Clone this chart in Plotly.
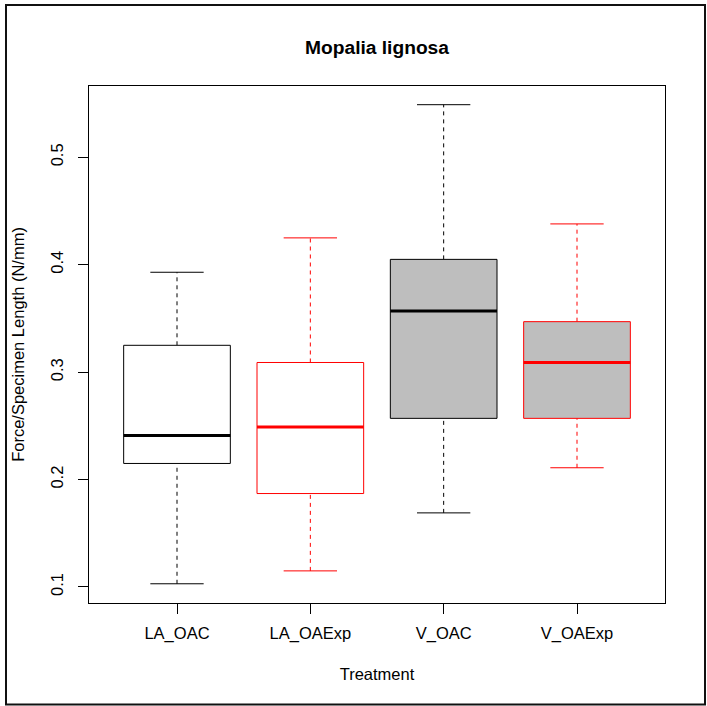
import plotly.graph_objects as go

categories = ["LA_OAC", "LA_OAExp", "V_OAC", "V_OAExp"]
lower_whisker = [0.103, 0.115, 0.169, 0.211]
q1 = [0.215, 0.187, 0.257, 0.257]
median = [0.241, 0.249, 0.357, 0.309]
q3 = [0.325, 0.309, 0.405, 0.347]
upper_whisker = [0.393, 0.425, 0.549, 0.438]
border_colors = ["black", "red", "black", "red"]
fill_colors = ["white", "white", "#BEBEBE", "#BEBEBE"]

BOX_HALF = 0.4
CAP_HALF = 0.2
FONT = "Liberation Sans, Arial, Helvetica, sans-serif"
FS = 16.5

fig = go.Figure()
for i, cat in enumerate(categories):
    c = i + 1
    col = border_colors[i]
    # lower whisker (dashed)
    fig.add_trace(go.Scatter(x=[c, c], y=[lower_whisker[i], q1[i]], mode="lines",
                             line=dict(color=col, width=1, dash="4px,4px"),
                             showlegend=False, hoverinfo="skip"))
    # upper whisker (dashed)
    fig.add_trace(go.Scatter(x=[c, c], y=[q3[i], upper_whisker[i]], mode="lines",
                             line=dict(color=col, width=1, dash="4px,4px"),
                             showlegend=False, hoverinfo="skip"))
    # caps
    for v in (lower_whisker[i], upper_whisker[i]):
        fig.add_trace(go.Scatter(x=[c - CAP_HALF, c + CAP_HALF], y=[v, v], mode="lines",
                                 line=dict(color=col, width=1),
                                 showlegend=False, hoverinfo="skip"))
    # box
    fig.add_trace(go.Scatter(
        x=[c - BOX_HALF, c + BOX_HALF, c + BOX_HALF, c - BOX_HALF, c - BOX_HALF],
        y=[q1[i], q1[i], q3[i], q3[i], q1[i]],
        mode="lines", fill="toself", fillcolor=fill_colors[i],
        line=dict(color=col, width=1), name=cat, showlegend=False))
    # median
    fig.add_trace(go.Scatter(x=[c - BOX_HALF, c + BOX_HALF], y=[median[i], median[i]],
                             mode="lines", line=dict(color=col, width=3),
                             showlegend=False, hoverinfo="skip"))

L, R, T, B = 89, 42, 86, 103
W, H = 707, 706
pw, ph = W - L - R, H - T - B

def px_x(p):
    return (p - L) / pw

def px_y(p):
    return (H - B - p) / ph

fig.add_shape(type="rect", xref="paper", yref="paper",
              x0=px_x(6), x1=px_x(705), y0=px_y(704.5), y1=px_y(5),
              line=dict(color="#111111", width=2), layer="above")

fig.update_layout(
    width=W, height=H,
    margin=dict(l=L, r=R, t=T, b=B),
    paper_bgcolor="white", plot_bgcolor="white",
    font=dict(family=FONT, size=FS, color="black"),
    title=dict(text="<b>Mopalia lignosa</b>", x=(L + pw / 2) / W, xanchor="center",
               y=1 - 47 / H, yanchor="middle", yref="container",
               font=dict(size=19.2, family=FONT, color="black")),
    xaxis=dict(range=[0.34, 4.66], tickvals=[1, 2, 3, 4], ticktext=categories,
               showgrid=False, zeroline=False, showline=True, mirror=True,
               linecolor="black", linewidth=1, ticks="outside", ticklen=10,
               tickcolor="black", tickfont=dict(size=FS), ticklabelstandoff=5,
               title=dict(text="Treatment", font=dict(size=FS), standoff=26)),
    yaxis=dict(range=[0.0851, 0.5664], tickvals=[0.1, 0.2, 0.3, 0.4, 0.5],
               ticktext=["0.1", "0.2", "0.3", "0.4", "0.5"], tickangle=-90,
               showgrid=False, zeroline=False, showline=True, mirror=True,
               linecolor="black", linewidth=1, ticks="outside", ticklen=10,
               tickcolor="black", tickfont=dict(size=FS), ticklabelstandoff=8,
               title=dict(text="Force/Specimen Length (N/mm)", font=dict(size=FS), standoff=19)),
)

fig.write_html("out.html")
